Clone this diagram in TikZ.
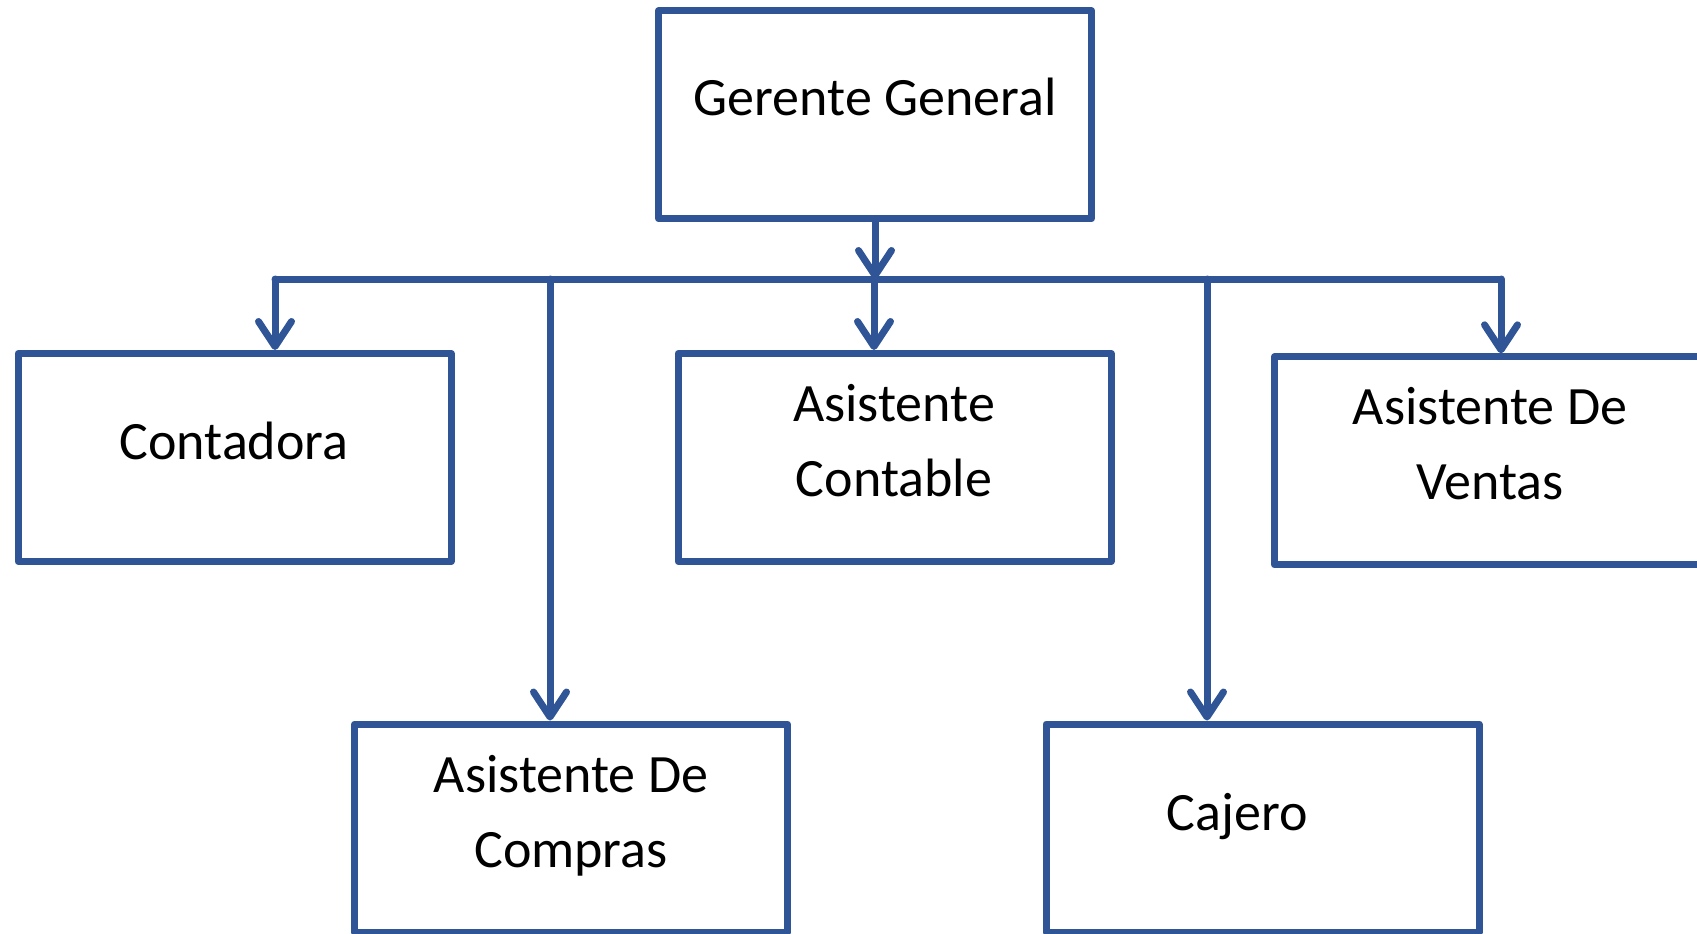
\documentclass[tikz,border=0pt]{standalone}
\usepackage{fontspec}
\setmainfont{Carlito}
\usepackage{tikz}
\usetikzlibrary{arrows.meta, positioning}
\definecolor{colorLine}{HTML}{2F5597}

\begin{document}
\begin{tikzpicture}[x=0.5pt, y=-0.5pt,
        box/.style={draw=colorLine, line width=3.5pt, line join=round, minimum width=216.5pt, minimum height=104pt, inner sep=0pt},
        txt/.style={align=center, font=\fontsize{27}{37.5}\selectfont, anchor=base, inner sep=0pt},
        conn/.style={draw=colorLine, line width=3.5pt, line cap=round},
        arr/.style={conn, -{Straight Barb[length=12.5pt, width=16.5pt, line cap=round, line join=round]}}]
        \useasboundingbox (0,0) rectangle (1697,933);
        \clip (0,0) rectangle (1697,933);
        % boxes
        \node[box] (chief) at (875,114.75) {};
        \node[box] (conta) at (234.5,457.5) {};
        \node[box] (contable) at (894.5,457.5) {};
        \node[box] (ventas) at (1491,460.8) {};
        \node[box] (compras) at (571,828) {};
        \node[box] (cajero) at (1262.5,828) {};
        % texts (base = last line)
        \node[txt] (tChief) at (875,115) {Gerente General};
        \node[txt] (tConta) at (234,459) {Contadora};
        \node[txt] (tContable) at (894,496) {Asistente\\Contable};
        \node[txt] (tVentas) at (1490,499) {Asistente De\\Ventas};
        \node[txt] (tCompras) at (571,867) {Asistente De\\Compras};
        \node[txt] (tCajero) at (1237,830) {Cajero};
        % bus
        \coordinate (busL) at (275,279);
        \coordinate (busB) at (550,279);
        \coordinate (busD) at (874,279);
        \coordinate (busE) at (1207,279);
        \coordinate (busR) at (1501,279);
        \draw[conn] (busL) -- (busR);
        \draw[arr] (chief.south) -- (chief.south |- busL);
        \foreach \p/\n in {busL/conta, busB/compras, busD/contable, busE/cajero, busR/ventas}
            \draw[arr] (\p) -- (\p |- \n.north);
    \end{tikzpicture}
\end{document}
